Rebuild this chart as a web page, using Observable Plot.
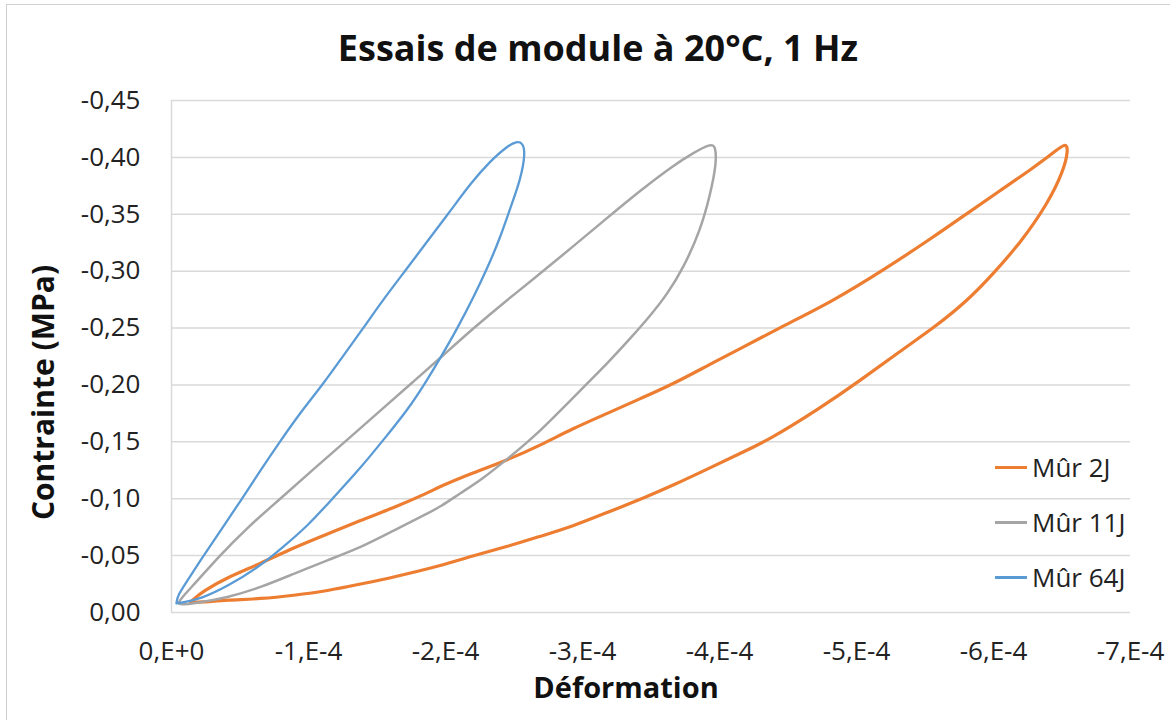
<!DOCTYPE html>
<html>
<head>
<meta charset="utf-8">
<script src="https://cdn.jsdelivr.net/npm/d3@7"></script>
<script src="https://cdn.jsdelivr.net/npm/@observablehq/plot@0.6"></script>
<style>
  html, body { margin: 0; padding: 0; background: #fff; }
  #wrap { position: relative; width: 1170px; height: 720px; overflow: hidden; font-family: "Open Sans", sans-serif; color: #222; }
  #frame { position: absolute; left: 6px; top: 4px; width: 1300px; height: 900px; border: 1px solid #d0d0d0; pointer-events: none; }
  #title { height: 85px; box-sizing: border-box; padding-top: 23px; line-height: 49px; font-size: 36px; font-weight: 700; text-align: center; transform: translateX(13px); color: #111; }
  #chart svg { display: block; }
  .leg { position: absolute; left: 995px; font-size: 26px; }
  .leg .sw { position: absolute; left: 0; width: 32px; height: 3px; }
  .leg .tx { position: absolute; left: 37px; white-space: nowrap; line-height: 36px; }
</style>
</head>
<body>
<div id="wrap">
  <div id="frame"></div>
  <div id="title">Essais de module à 20°C, 1 Hz</div>
  <div id="chart"></div>
  <div id="legend"></div>
</div>
<script>
// ---- Data (strain in units of 1e-4, stress in MPa; compression negative) ----
const seriesNames = ["Mûr 2J", "Mûr 11J", "Mûr 64J"];
const seriesColors = ["#ED7D31", "#A5A5A5", "#5B9BD5"];
const seriesWidths = [3.2, 2.5, 2.3];

const strain2J = [-0.139,-0.153,-0.234,-0.409,-0.650,-0.891,-1.139,-1.380,-1.620,-1.869,-1.964,-2.204,-2.453,-2.693,-2.934,-3.182,-3.423,-3.664,-3.912,-4.153,-4.467,-4.832,-5.197,-5.562,-5.810,-6.051,-6.292,-6.438,-6.526,-6.547,-6.511,-6.394,-6.197,-6.000,-5.810,-5.562,-5.321,-5.029,-4.715,-4.350,-4.153,-3.912,-3.664,-3.474,-3.182,-2.934,-2.693,-2.453,-2.204,-1.964,-1.620,-1.380,-1.139,-0.891,-0.650,-0.409,-0.212,-0.139];
const stress2J = [-0.009,-0.011,-0.019,-0.031,-0.043,-0.057,-0.069,-0.081,-0.092,-0.105,-0.111,-0.123,-0.134,-0.147,-0.162,-0.175,-0.188,-0.201,-0.217,-0.232,-0.252,-0.274,-0.301,-0.330,-0.351,-0.371,-0.391,-0.404,-0.413,-0.407,-0.388,-0.359,-0.325,-0.298,-0.274,-0.250,-0.230,-0.204,-0.178,-0.151,-0.140,-0.126,-0.112,-0.102,-0.088,-0.076,-0.067,-0.058,-0.050,-0.041,-0.031,-0.025,-0.019,-0.015,-0.012,-0.011,-0.009,-0.009];

const strain11J = [-0.051,-0.066,-0.190,-0.336,-0.555,-0.796,-1.036,-1.285,-1.577,-1.766,-1.964,-2.204,-2.453,-2.642,-2.934,-3.182,-3.423,-3.664,-3.810,-3.934,-3.971,-3.978,-3.934,-3.861,-3.737,-3.620,-3.496,-3.350,-3.182,-3.007,-2.818,-2.642,-2.453,-2.255,-2.109,-1.964,-1.869,-1.620,-1.380,-1.139,-0.891,-0.650,-0.409,-0.161,-0.066,-0.051];
const stress11J = [-0.008,-0.012,-0.028,-0.048,-0.075,-0.100,-0.126,-0.152,-0.183,-0.203,-0.224,-0.250,-0.275,-0.293,-0.322,-0.347,-0.371,-0.393,-0.404,-0.412,-0.410,-0.395,-0.368,-0.336,-0.303,-0.280,-0.261,-0.241,-0.219,-0.198,-0.175,-0.154,-0.135,-0.116,-0.105,-0.093,-0.087,-0.072,-0.057,-0.046,-0.034,-0.022,-0.013,-0.008,-0.007,-0.008];

const strain64J = [-0.036,-0.044,-0.117,-0.212,-0.358,-0.504,-0.650,-0.796,-0.942,-1.109,-1.255,-1.401,-1.526,-1.723,-1.891,-2.036,-2.182,-2.328,-2.453,-2.518,-2.562,-2.584,-2.547,-2.474,-2.401,-2.307,-2.204,-2.088,-1.964,-1.854,-1.723,-1.562,-1.380,-1.182,-0.993,-0.818,-0.650,-0.409,-0.212,-0.088,-0.036];
const stress64J = [-0.008,-0.015,-0.028,-0.046,-0.072,-0.098,-0.125,-0.151,-0.176,-0.201,-0.226,-0.250,-0.272,-0.303,-0.330,-0.353,-0.377,-0.397,-0.410,-0.414,-0.413,-0.404,-0.380,-0.356,-0.330,-0.303,-0.277,-0.250,-0.224,-0.202,-0.178,-0.154,-0.127,-0.101,-0.076,-0.058,-0.041,-0.023,-0.012,-0.009,-0.008];

const yTicks = [0, -0.05, -0.10, -0.15, -0.20, -0.25, -0.30, -0.35, -0.40, -0.45];
const yTickLabels = ["0,00", "-0,05", "-0,10", "-0,15", "-0,20", "-0,25", "-0,30", "-0,35", "-0,40", "-0,45"];
const xTicks = [0, -1e-4, -2e-4, -3e-4, -4e-4, -5e-4, -6e-4, -7e-4];
const xTickLabels = ["0,E+0", "-1,E-4", "-2,E-4", "-3,E-4", "-4,E-4", "-5,E-4", "-6,E-4", "-7,E-4"];

// ---- Build table ----
const rows = [];
[[strain2J, stress2J], [strain11J, stress11J], [strain64J, stress64J]].forEach(([xs, ys], i) => {
  xs.forEach((x, j) => rows.push({ series: seriesNames[i], strain: x * 1e-4, stress: ys[j] }));
});

const chart = Plot.plot({
  width: 1170,
  height: 635,
  marginTop: 15,
  marginBottom: 108,
  marginLeft: 171,
  marginRight: 40,
  style: { fontFamily: '"Open Sans", sans-serif', color: "#222", background: "transparent", overflow: "visible" },
  x: { domain: [0, -7e-4] },
  y: { domain: [0, -0.45] },
  marks: [
    Plot.ruleY(yTicks, { stroke: "#d9d9d9", strokeWidth: 1.5 }),
    Plot.ruleX([0], { y1: 0, y2: -0.45, stroke: "#d9d9d9", strokeWidth: 1.5 }),
    Plot.axisX({ ticks: xTicks, tickFormat: d => xTickLabels[xTicks.indexOf(d)], tickSize: 0, tickPadding: 29, fontSize: 26, label: null }),
    Plot.axisY({ ticks: yTicks, tickFormat: d => yTickLabels[yTicks.indexOf(d)], tickSize: 0, tickPadding: 31, fontSize: 26, label: null }),
    ...seriesNames.map((name, i) => Plot.line(rows, {
      filter: d => d.series === name,
      x: "strain", y: "stress",
      stroke: seriesColors[i], strokeWidth: seriesWidths[i],
      curve: "basis"
    })),
    Plot.text(["Contrainte (MPa)"], { frameAnchor: "left", textAnchor: "middle", dx: -127, dy: 36, rotate: -90, fontSize: 30, fontWeight: "bold", fill: "#111" }),
    Plot.text(["Déformation"], { frameAnchor: "bottom", textAnchor: "middle", dx: -25, dy: 85, fontSize: 29, fontWeight: "bold", fill: "#111" })
  ]
});
document.getElementById("chart").appendChild(chart);

// ---- Legend ----
const legY = [467, 522, 577];
const leg = document.getElementById("legend");
seriesNames.forEach((name, i) => {
  const g = document.createElement("div");
  g.className = "leg";
  g.style.top = legY[i] + "px";
  g.innerHTML = `<div class="sw" style="background:${seriesColors[i]};top:-1.5px"></div><div class="tx" style="top:-18px">${name}</div>`;
  leg.appendChild(g);
});
</script>
</body>
</html>
